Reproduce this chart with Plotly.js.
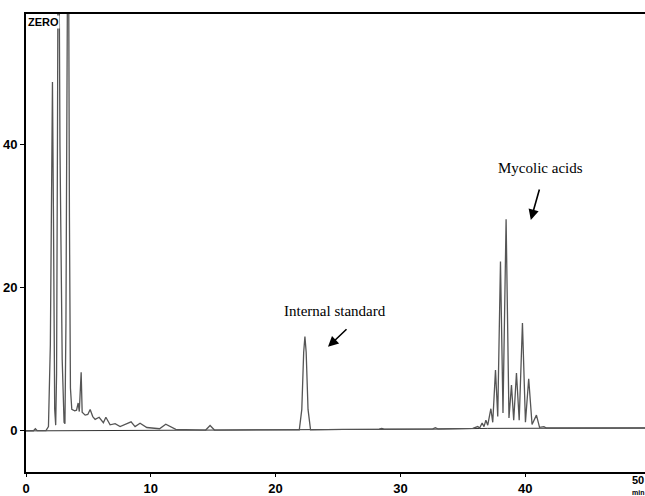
<!DOCTYPE html>
<html>
<head>
<meta charset="utf-8">
<script src="https://cdn.plot.ly/plotly-3.0.1.min.js"></script>
<style>html,body{margin:0;padding:0;background:#fff;}#chart{width:645px;height:496px;}</style>
</head>
<body>
<div id="chart"></div>
<script>
// Retention time (min) and detector response
const times = [0.0,0.6,0.75,0.9,1.6,1.8,1.95,2.05,2.12,2.2,2.3,2.38,2.45,2.52,2.6,2.72,2.9,3.05,3.12,3.2,3.3,3.38,3.48,3.56,3.67,3.9,4.05,4.18,4.27,4.35,4.42,4.5,4.74,4.95,5.14,5.35,5.54,5.86,6.2,6.4,6.74,7.14,7.54,8.42,8.74,9.14,9.68,10.7,11.2,12.0,14.4,14.75,15.1];
const signal = [0.02,0.02,0.3,0.03,0.05,0.6,12,38,48.8,30,3,0.8,8,40,85,40,10,1.2,1.0,15,60,85,30,6,3.0,2.8,2.9,3.9,2.7,5,8.2,2.6,2.2,2.3,3.0,2.0,1.6,1.9,1.15,1.9,0.85,1.0,0.6,1.26,0.6,1.08,0.47,0.3,0.93,0.2,0.12,0.75,0.12];
// internal standard and mycolic acid cluster
const times2 = [21.9,22.1,22.25,22.35,22.45,22.6,22.8,25.0,25.2,25.4,28.3,28.5,28.7,32.6,32.8,33.0,35.8,36.2,36.35,36.55,36.7,36.85,37.0,37.25,37.4,37.62,37.8,38.02,38.22,38.47,38.7,38.9,39.08,39.3,39.52,39.78,40.02,40.28,40.55,40.9,41.15,41.5,41.7,49.6];
const signal2 = [0.15,3,11,13.2,11,3,0.15,0.2,0.3,0.2,0.25,0.35,0.25,0.28,0.45,0.28,0.35,0.6,0.4,1.1,0.6,1.5,0.8,3.1,1.2,8.5,2.0,23.7,2.5,29.6,1.8,6.4,1.5,8.1,1.5,15.1,1.2,7.3,0.9,2.2,0.5,0.6,0.4,0.4];
// integrator baseline
const baseTimes = [0, 10, 22, 33, 37, 49.6];
const baseVals = [0, 0.05, 0.15, 0.25, 0.35, 0.4];
const xTicks = [0, 10, 20, 30, 40];
const yTicks = [0, 20, 40];

const tickFont = {family: 'Liberation Sans, Arial, sans-serif', size: 13, color: '#000', weight: 'bold'};
const data = [
  {x: baseTimes, y: baseVals, mode: 'lines', line: {color: '#333', width: 1}, hoverinfo: 'skip'},
  {x: times.concat(times2), y: signal.concat(signal2), mode: 'lines', line: {color: '#555', width: 1.3}, hoverinfo: 'skip'}
];
const layout = {
  width: 645, height: 496,
  margin: {l: 26, r: 0, t: 14, b: 24},
  paper_bgcolor: '#fff', plot_bgcolor: '#fff',
  showlegend: false,
  xaxis: {range: [0, 49.6], tickvals: xTicks, ticktext: xTicks.map(String), showgrid: false, zeroline: false,
          showline: true, mirror: true, linecolor: '#000', linewidth: 2, ticks: 'outside', ticklen: 3, tickcolor: '#000',
          tickfont: tickFont},
  yaxis: {range: [-5.75, 58.3], tickvals: yTicks, ticktext: yTicks.map(String), showgrid: false, zeroline: false,
          showline: true, mirror: false, linecolor: '#000', linewidth: 2, ticks: 'outside', ticklen: 4, tickcolor: '#000',
          tickfont: tickFont},
  annotations: [
    {xref: 'paper', yref: 'paper', x: 0.001, y: 0.998, xanchor: 'left', yanchor: 'top', text: 'ZERO', showarrow: false,
     font: {family: 'Liberation Sans, Arial, sans-serif', size: 11, color: '#000', weight: 'bold'}, bgcolor: '#fff', borderpad: 0},
    {x: 41.26, y: 36.8, text: 'Mycolic acids', showarrow: false, font: {family: 'Liberation Serif, Times New Roman, serif', size: 15, color: '#000'}},
    {x: 40.45, y: 29.5, ax: 9, ay: -32, text: '', showarrow: true, arrowhead: 2, arrowsize: 1.3, arrowwidth: 1.6, arrowcolor: '#000'},
    {x: 24.76, y: 16.8, text: 'Internal standard', showarrow: false, font: {family: 'Liberation Serif, Times New Roman, serif', size: 15, color: '#000'}},
    {x: 24.2, y: 11.75, ax: 20, ay: -19, text: '', showarrow: true, arrowhead: 2, arrowsize: 1.3, arrowwidth: 1.6, arrowcolor: '#000'},
    {xref: 'paper', yref: 'paper', x: 1.0, y: -0.002, xanchor: 'right', yanchor: 'top', text: '50', showarrow: false,
     font: {family: 'Liberation Sans, Arial, sans-serif', size: 11, color: '#000', weight: 'bold'}, borderpad: 0},
    {xref: 'paper', yref: 'paper', x: 1.0, y: -0.034, xanchor: 'right', yanchor: 'top', text: 'min', showarrow: false,
     font: {family: 'Liberation Sans, Arial, sans-serif', size: 7, color: '#000', weight: 'bold'}, borderpad: 0}
  ]
};
Plotly.newPlot('chart', data, layout, {staticPlot: true, displayModeBar: false});
</script>
</body>
</html>
